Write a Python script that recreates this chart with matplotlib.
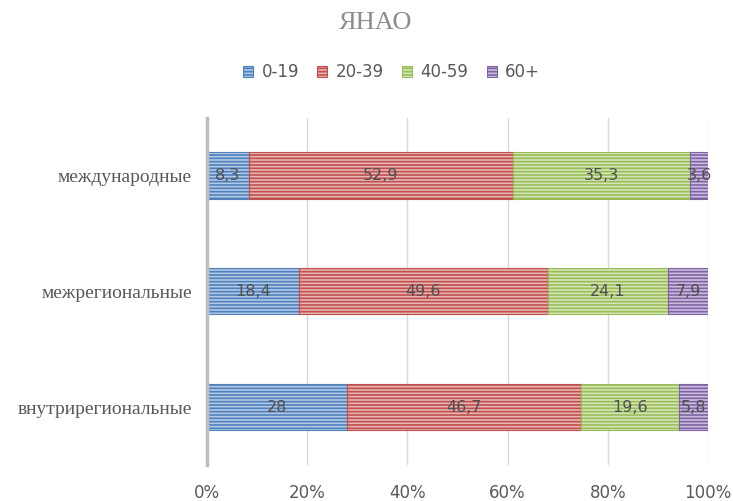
import numpy as np
import matplotlib as mpl
mpl.use('Agg')
import matplotlib.pyplot as plt
from matplotlib.ticker import PercentFormatter

categories = ['внутрирегиональные', 'межрегиональные', 'международные']
groups = ['0-19', '20-39', '40-59', '60+']
v_0_19 = [28, 18.4, 8.3]
v_20_39 = [46.7, 49.6, 52.9]
v_40_59 = [19.6, 24.1, 35.3]
v_60 = [5.8, 7.9, 3.6]
labels_0_19 = ['28', '18,4', '8,3']
labels_20_39 = ['46,7', '49,6', '52,9']
labels_40_59 = ['19,6', '24,1', '35,3']
labels_60 = ['5,8', '7,9', '3,6']

colors = ['#4f81bd', '#c0504d', '#9bbb59', '#8064a2']
light = ['#b3c9e6', '#e8b5b4', '#d4e6b8', '#cbbde0']

plt.rcParams['hatch.linewidth'] = 1.2

fig = plt.figure(figsize=(7.33, 5.01), dpi=100)
ax = fig.add_axes([0.2824, 0.072, 0.6836, 0.693])

series = [v_0_19, v_20_39, v_40_59, v_60]
texts = [labels_0_19, labels_20_39, labels_40_59, labels_60]
totals = np.sum(series, axis=0)
y = np.arange(len(categories))
left = np.zeros(len(categories))
for vals, labs, name, c, lc in zip(series, texts, groups, colors, light):
    w = np.array(vals) / totals * 100
    ax.barh(y, w, left=left, height=0.4, color=lc, edgecolor=c,
            hatch='-----', linewidth=0.8, label=name)
    for yi, li, wi, t in zip(y, left, w, labs):
        ax.text(li + wi / 2, yi, t, ha='center', va='center',
                fontsize=11.5, color='#505050', family='DejaVu Sans')
    left = left + w

ax.set_xlim(0, 100)
ax.set_ylim(-0.5, 2.5)
ax.xaxis.set_major_formatter(PercentFormatter(decimals=0))
ax.set_xticks([0, 20, 40, 60, 80, 100])
ax.set_yticks(y)
ax.set_yticklabels(categories, family='Liberation Serif', fontsize=14, color='#595959')
ax.tick_params(axis='x', labelsize=12, colors='#595959', length=0, pad=14)
ax.tick_params(axis='y', length=0, pad=11)
ax.grid(axis='x', color='#d9d9d9', linewidth=1)
ax.set_axisbelow(True)
for s in ['top', 'right', 'bottom']:
    ax.spines[s].set_visible(False)
ax.spines['left'].set_color('#bfbfbf')
ax.spines['left'].set_linewidth(2.5)

fig.text(0.512, 0.955, 'ЯНАО', ha='center', va='center', family='Liberation Serif',
         fontsize=19, color='#8c8c8c')
leg = fig.legend(loc='center', bbox_to_anchor=(0.534, 0.856), ncol=4, frameon=False,
                 fontsize=12, handlelength=0.6, handleheight=0.6, handletextpad=0.5,
                 columnspacing=1.1)
for t in leg.get_texts():
    t.set_color('#595959')

plt.savefig('out.png', dpi=100)
